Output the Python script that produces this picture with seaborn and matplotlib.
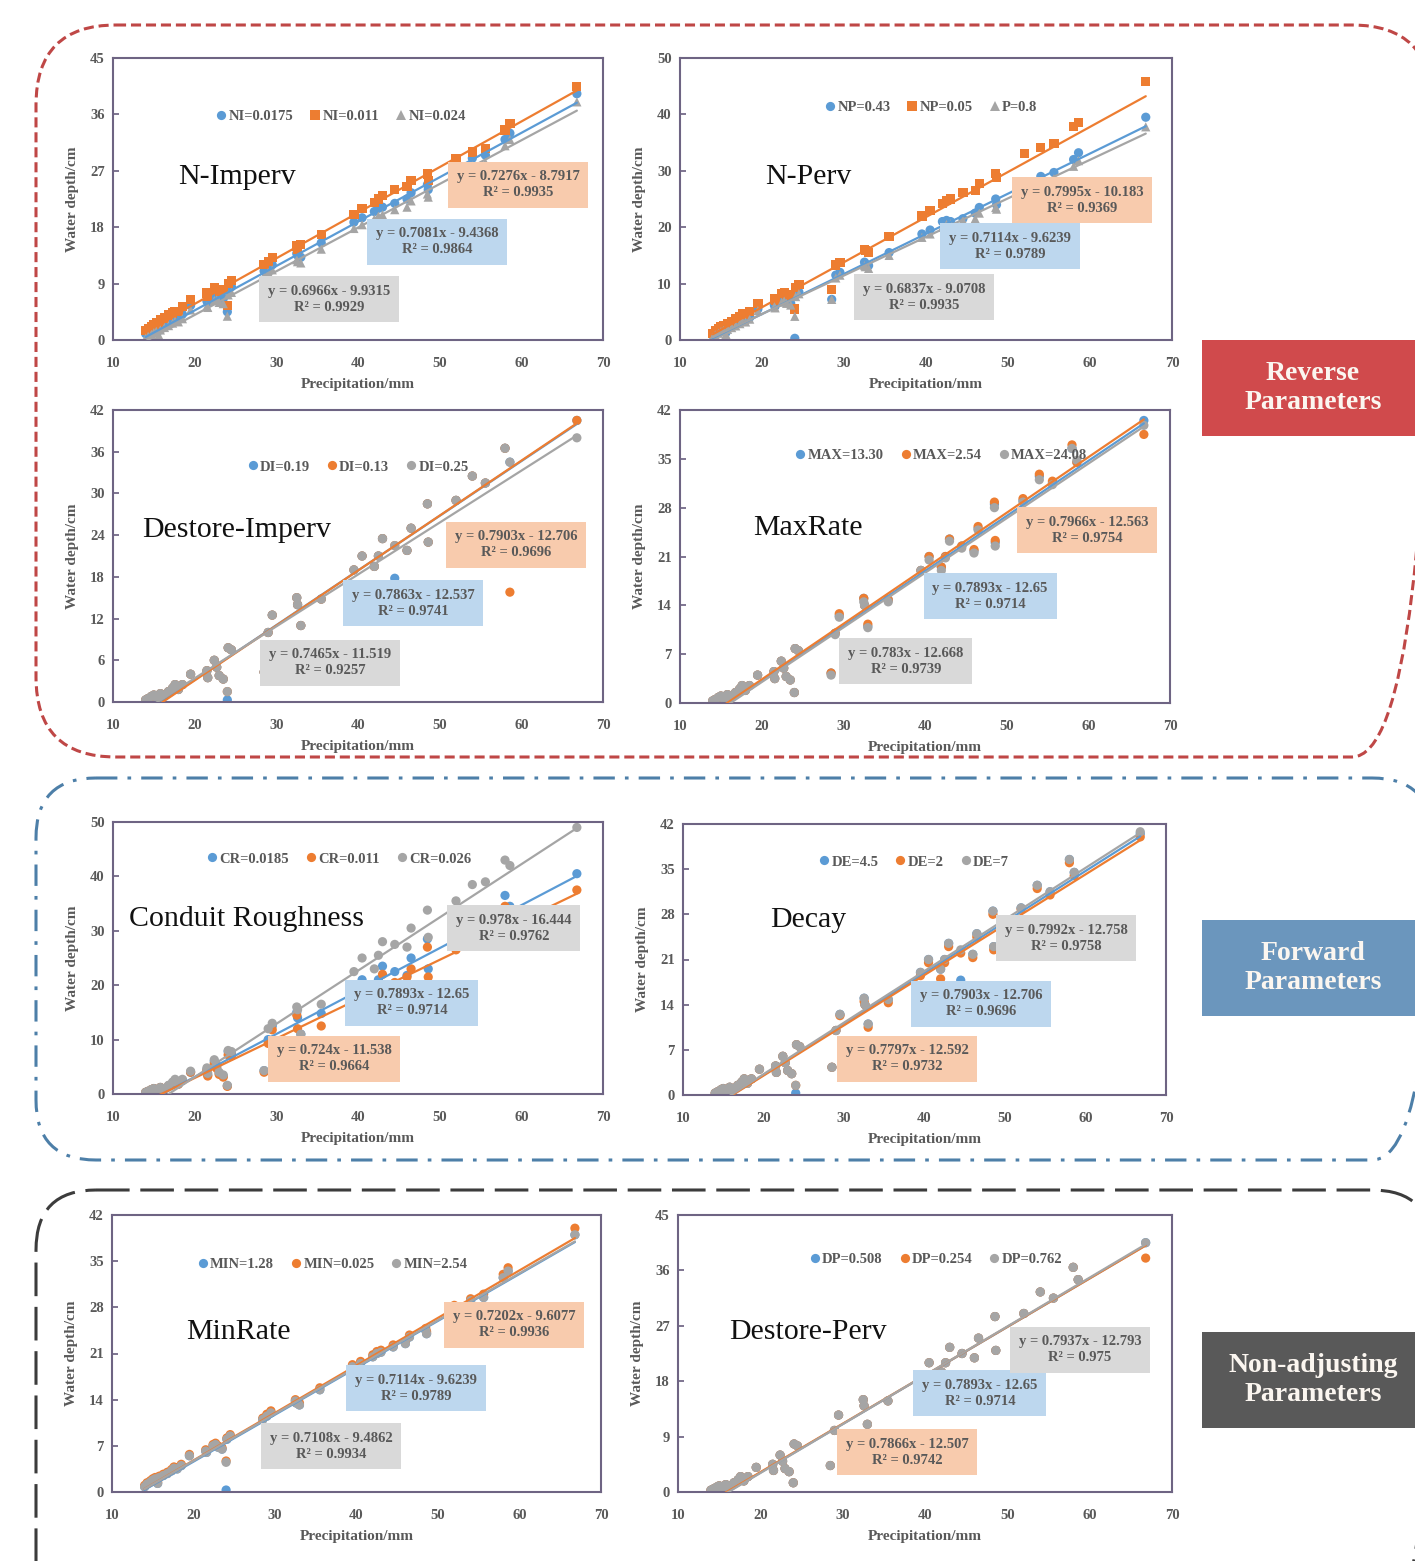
import matplotlib
matplotlib.use("Agg")
import matplotlib.pyplot as plt
from matplotlib.patches import FancyBboxPatch, Rectangle
import numpy as np
import pandas as pd
import seaborn as sns

# ---------------- data ----------------
precip = [14.0, 14.3, 14.7, 15.0, 15.3, 15.6, 15.8, 16.3, 16.8, 17.3, 17.6, 18.0, 18.5, 19.5,
          21.5, 21.6, 22.4, 22.7, 23.0, 23.5, 24.0, 24.1, 24.5, 28.5, 29.0, 29.5, 32.5, 32.6,
          33.0, 35.5, 39.5, 40.5, 42.0, 42.5, 43.0, 44.5, 46.0, 46.5, 48.5, 48.6, 52.0, 54.0,
          55.6, 58.0, 58.6, 66.8]

# N-Imperv
ni_labels = ["NI=0.0175", "NI=0.011", "NI=0.024"]
ni_blue = [1.0, 1.3, 1.6, 1.9, 2.1, 1.5, 2.3, 2.6, 3.0, 3.4, 3.7, 3.6, 4.1, 5.5, 6.2, 6.0, 7.0, 7.2, 6.8, 6.6, 4.5, 8.0, 8.5,
           11.0, 11.5, 12.0, 13.8, 13.5, 13.2, 15.5, 18.8, 19.5, 20.5, 21.0, 21.2, 21.8, 22.5, 23.5, 24.8, 24.0, 27.8, 29.0,
           29.5, 32.0, 33.0, 39.3]
ni_orange = [1.5, 1.8, 2.2, 2.5, 2.8, 2.2, 3.2, 3.5, 4.0, 4.3, 4.6, 4.5, 5.3, 6.5, 7.5, 7.0, 8.3, 8.0, 7.8, 8.0, 5.5, 9.0, 9.5,
             12.0, 12.5, 13.2, 15.0, 14.5, 15.2, 16.8, 20.0, 21.0, 22.0, 22.5, 23.0, 24.0, 24.5, 25.5, 26.5, 25.5, 29.0, 30.0,
             30.5, 33.5, 34.5, 40.5]
ni_gray = [0.3, 0.6, 0.9, 1.2, 1.4, 0.8, 1.6, 2.0, 2.3, 2.7, 3.0, 2.9, 3.4, 4.8, 5.4, 5.2, 6.3, 6.4, 6.0, 5.8, 3.8, 7.2, 7.6,
           10.2, 10.8, 11.2, 12.8, 12.5, 12.3, 14.5, 17.8, 18.4, 19.3, 19.8, 20.0, 20.8, 21.2, 22.2, 23.3, 22.8, 26.8, 27.8,
           28.3, 31.0, 32.0, 38.0]
ni_slope = [0.7081, 0.7276, 0.6966]
ni_icpt = [-9.4368, -8.7917, -9.9315]
ni_r2 = [0.9864, 0.9935, 0.9929]

# N-Perv
np_labels = ["NP=0.43", "NP=0.05", "P=0.8"]
np_blue = [0.8, 1.2, 1.5, 1.8, 2.0, 1.3, 2.2, 2.5, 2.8, 3.2, 3.6, 3.5, 4.0, 5.5, 6.2, 6.0, 7.0, 7.2, 6.8, 6.5, 0.3, 8.0, 8.5,
           7.2, 11.5, 12.0, 13.8, 13.5, 13.2, 15.5, 18.8, 19.5, 21.0, 21.2, 21.0, 21.5, 22.5, 23.5, 25.0, 24.0, 28.0, 29.0,
           29.7, 32.0, 33.2, 39.5]
np_orange = [1.2, 1.6, 2.0, 2.3, 2.6, 2.0, 2.9, 3.3, 3.8, 4.2, 4.6, 4.5, 5.0, 6.5, 7.3, 7.0, 8.2, 8.4, 8.0, 7.8, 5.5, 9.3, 9.8,
             9.0, 13.3, 13.8, 16.0, 15.8, 15.5, 18.3, 22.0, 23.0, 24.2, 24.8, 25.0, 26.2, 26.5, 27.8, 29.5, 28.8, 33.0, 34.2,
             34.8, 37.8, 38.6, 45.8]
np_gray = [0.5, 0.9, 1.2, 1.5, 1.7, 1.0, 1.9, 2.2, 2.5, 2.9, 3.3, 3.2, 3.7, 5.2, 5.9, 5.7, 6.7, 6.9, 6.5, 6.2, 4.2, 7.7, 8.2,
           7.2, 11.0, 11.5, 13.2, 13.0, 12.7, 15.0, 18.2, 18.8, 20.0, 20.5, 20.6, 21.2, 21.5, 22.5, 23.5, 23.2, 27.0, 28.0,
           28.6, 30.8, 31.8, 37.8]
np_slope = [0.7114, 0.7995, 0.6837]
np_icpt = [-9.6239, -10.183, -9.0708]
np_r2 = [0.9789, 0.9369, 0.9935]

# calibrated event depths (used by several parameters whose runs overlap it)
depth_base = [0.3, 0.5, 0.8, 1.0, 0.7, 0.2, 1.2, 1.0, 1.5, 2.0, 2.5, 1.8, 2.5, 4.0, 4.5, 3.5, 6.0, 5.0, 3.8, 3.3, 1.5, 7.8,
              7.5, 4.3, 10.0, 12.5, 15.0, 14.0, 11.0, 14.8, 19.0, 21.0, 19.5, 21.0, 23.5, 22.5, 21.8, 25.0, 28.5, 23.0, 29.0,
              32.5, 31.5, 36.5, 34.5, 40.5]

# Destore-Imperv
di_labels = ["DI=0.19", "DI=0.13", "DI=0.25"]
di_blue = [0.3, 0.5, 0.8, 1.0, 0.7, 0.2, 1.2, 1.0, 1.5, 2.0, 2.5, 1.8, 2.5, 4.0, 4.5, 3.5, 6.0, 5.0, 3.8, 3.3, 0.3, 7.8,
           7.5, 4.3, 10.0, 12.5, 15.0, 14.0, 11.0, 14.8, 19.0, 21.0, 19.5, 21.0, 23.5, 17.8, 21.8, 25.0, 28.5, 23.0, 29.0,
           32.5, 31.5, 36.5, 34.5, 40.5]
di_orange = [0.3, 0.5, 0.8, 1.0, 0.7, 0.2, 1.2, 1.0, 1.5, 2.0, 2.5, 1.8, 2.5, 4.0, 4.5, 3.5, 6.0, 5.0, 3.8, 3.3, 1.5, 7.8,
             7.5, 4.3, 10.0, 12.5, 15.0, 14.0, 11.0, 14.8, 19.0, 21.0, 19.5, 21.0, 23.5, 22.5, 21.8, 25.0, 28.5, 23.0, 29.0,
             32.5, 31.5, 36.5, 15.8, 40.5]
di_gray = [0.3, 0.5, 0.8, 1.0, 0.7, 0.2, 1.2, 1.0, 1.5, 2.0, 2.5, 1.8, 2.5, 4.0, 4.5, 3.5, 6.0, 5.0, 3.8, 3.3, 1.5, 7.8,
           7.5, 4.3, 10.0, 12.5, 15.0, 14.0, 11.0, 14.8, 19.0, 21.0, 19.5, 21.0, 23.5, 22.5, 21.8, 25.0, 28.5, 23.0, 29.0,
           32.5, 31.5, 36.5, 34.5, 38.0]
di_slope = [0.7863, 0.7903, 0.7465]
di_icpt = [-12.537, -12.706, -11.519]
di_r2 = [0.9741, 0.9696, 0.9257]

# MaxRate
mr_labels = ["MAX=13.30", "MAX=2.54", "MAX=24.08"]
mr_blue = depth_base
mr_orange = [0.3, 0.5, 0.8, 1.0, 0.7, 0.2, 1.2, 1.0, 1.5, 2.0, 2.5, 1.8, 2.5, 4.0, 4.5, 3.5, 6.0, 5.0, 3.8, 3.3, 1.5, 7.8,
             7.5, 4.3, 10.0, 12.8, 15.0, 14.0, 11.3, 14.8, 19.0, 21.0, 19.5, 21.0, 23.5, 22.5, 22.0, 25.3, 28.8, 23.3, 29.3,
             32.8, 31.8, 37.0, 34.5, 38.5]
mr_gray = [0.3, 0.5, 0.8, 1.0, 0.7, 0.2, 1.2, 1.0, 1.5, 2.0, 2.5, 1.8, 2.5, 4.0, 4.5, 3.5, 6.0, 5.0, 3.8, 3.3, 1.5, 7.8,
           7.5, 4.0, 9.8, 12.3, 14.5, 14.0, 10.8, 14.5, 19.0, 20.5, 19.0, 20.8, 23.2, 22.2, 21.5, 24.8, 28.0, 22.5, 28.8,
           32.0, 31.3, 36.5, 34.8, 39.8]
mr_slope = [0.7893, 0.7966, 0.783]
mr_icpt = [-12.65, -12.563, -12.668]
mr_r2 = [0.9714, 0.9754, 0.9739]

# Conduit Roughness
cr_labels = ["CR=0.0185", "CR=0.011", "CR=0.026"]
cr_blue = depth_base
cr_orange = [0.3, 0.5, 0.8, 1.0, 0.7, 0.2, 1.2, 1.0, 1.5, 2.0, 2.5, 1.8, 2.5, 4.0, 4.3, 3.3, 5.6, 4.7, 3.6, 3.1, 1.4, 7.2,
             7.0, 4.0, 9.3, 11.8, 14.5, 12.0, 10.2, 12.5, 17.0, 19.0, 18.0, 19.5, 22.0, 20.5, 21.5, 23.0, 27.0, 21.5, 26.5,
             29.5, 29.0, 34.5, 33.0, 37.5]
cr_gray = [0.3, 0.5, 0.8, 1.0, 0.7, 0.2, 1.2, 1.0, 1.6, 2.2, 2.7, 2.0, 2.7, 4.2, 4.8, 3.8, 6.3, 5.3, 4.0, 3.5, 1.6, 8.0,
           7.8, 4.3, 12.0, 13.0, 16.0, 15.5, 11.0, 16.5, 22.5, 25.0, 23.0, 25.5, 28.0, 27.5, 27.0, 30.5, 33.8, 28.8, 35.5,
           38.5, 39.0, 43.0, 42.0, 49.0]
cr_slope = [0.7893, 0.724, 0.978]
cr_icpt = [-12.65, -11.538, -16.444]
cr_r2 = [0.9714, 0.9664, 0.9762]

# Decay
de_labels = ["DE=4.5", "DE=2", "DE=7"]
de_blue = di_blue
de_orange = [0.3, 0.5, 0.8, 1.0, 0.7, 0.2, 1.2, 1.0, 1.5, 2.0, 2.5, 1.8, 2.5, 4.0, 4.5, 3.5, 6.0, 5.0, 3.8, 3.3, 1.5, 7.8,
             7.5, 4.3, 10.0, 12.3, 14.5, 14.0, 10.5, 14.3, 18.5, 20.5, 18.0, 20.5, 23.0, 22.0, 21.3, 24.5, 28.0, 22.5, 28.8,
             32.0, 31.0, 36.0, 34.0, 40.0]
de_gray = [0.3, 0.5, 0.8, 1.0, 0.7, 0.2, 1.2, 1.0, 1.5, 2.0, 2.5, 1.8, 2.5, 4.0, 4.5, 3.5, 6.0, 5.0, 3.8, 3.3, 1.5, 7.8,
           7.5, 4.3, 10.0, 12.5, 15.0, 14.0, 11.0, 14.8, 19.0, 21.0, 19.5, 21.0, 23.5, 22.5, 21.8, 25.0, 28.5, 23.0, 29.0,
           32.5, 31.5, 36.5, 34.5, 40.8]
de_slope = [0.7903, 0.7797, 0.7992]
de_icpt = [-12.706, -12.592, -12.758]
de_r2 = [0.9696, 0.9732, 0.9758]

# MinRate
mn_labels = ["MIN=1.28", "MIN=0.025", "MIN=2.54"]
mn_blue = [0.8, 1.2, 1.5, 1.8, 2.0, 1.3, 2.2, 2.5, 2.8, 3.2, 3.6, 3.5, 4.0, 5.5, 6.2, 6.0, 7.0, 7.2, 6.8, 6.5, 0.3, 8.0, 8.5,
           11.0, 11.5, 12.0, 13.8, 13.5, 13.2, 15.5, 19.0, 19.5, 20.5, 21.0, 21.2, 22.0, 22.5, 23.5, 24.5, 24.0, 28.0, 29.0,
           29.5, 32.5, 33.5, 39.0]
mn_orange = [1.0, 1.4, 1.7, 2.0, 2.2, 1.5, 2.4, 2.7, 3.0, 3.4, 3.8, 3.7, 4.2, 5.7, 6.4, 6.2, 7.2, 7.4, 7.0, 6.7, 4.7, 8.2,
             8.7, 11.2, 11.8, 12.3, 14.0, 13.8, 13.5, 15.8, 19.3, 19.8, 20.8, 21.3, 21.5, 22.3, 22.8, 23.8, 24.8, 24.3, 28.3,
             29.3, 30.0, 33.0, 34.0, 40.0]
mn_gray = [0.8, 1.2, 1.5, 1.8, 2.0, 1.3, 2.2, 2.5, 2.8, 3.2, 3.6, 3.5, 4.0, 5.5, 6.2, 6.0, 7.0, 7.2, 6.8, 6.5, 4.5, 8.0, 8.5,
           11.0, 11.5, 12.0, 13.8, 13.5, 13.2, 15.5, 19.0, 19.5, 20.5, 21.0, 21.2, 22.0, 22.5, 23.5, 24.5, 24.0, 28.0, 29.0,
           29.5, 32.5, 33.5, 39.0]
mn_slope = [0.7114, 0.7202, 0.7108]
mn_icpt = [-9.6239, -9.6077, -9.4862]
mn_r2 = [0.9789, 0.9936, 0.9934]

# Destore-Perv
dp_labels = ["DP=0.508", "DP=0.254", "DP=0.762"]
dp_blue = depth_base
dp_orange = [0.3, 0.5, 0.8, 1.0, 0.7, 0.2, 1.2, 1.0, 1.5, 2.0, 2.5, 1.8, 2.5, 4.0, 4.5, 3.5, 6.0, 5.0, 3.8, 3.3, 1.5, 7.8,
             7.5, 4.3, 10.0, 12.5, 15.0, 14.0, 11.0, 14.8, 19.0, 21.0, 19.5, 21.0, 23.5, 22.5, 21.8, 25.0, 28.5, 23.0, 29.0,
             32.5, 31.5, 36.5, 34.5, 38.0]
dp_gray = depth_base
dp_slope = [0.7893, 0.7866, 0.7937]
dp_icpt = [-12.65, -12.507, -12.793]
dp_r2 = [0.9714, 0.9742, 0.975]

panel_names = ["N-Imperv", "N-Perv", "Destore-Imperv", "MaxRate",
               "Conduit Roughness", "Decay", "MinRate", "Destore-Perv"]
group_names = ["Reverse\nParameters", "Forward\nParameters", "Non-adjusting\nParameters"]

panels = [
    (ni_labels, [ni_blue, ni_orange, ni_gray], ni_slope, ni_icpt, ni_r2),
    (np_labels, [np_blue, np_orange, np_gray], np_slope, np_icpt, np_r2),
    (di_labels, [di_blue, di_orange, di_gray], di_slope, di_icpt, di_r2),
    (mr_labels, [mr_blue, mr_orange, mr_gray], mr_slope, mr_icpt, mr_r2),
    (cr_labels, [cr_blue, cr_orange, cr_gray], cr_slope, cr_icpt, cr_r2),
    (de_labels, [de_blue, de_orange, de_gray], de_slope, de_icpt, de_r2),
    (mn_labels, [mn_blue, mn_orange, mn_gray], mn_slope, mn_icpt, mn_r2),
    (dp_labels, [dp_blue, dp_orange, dp_gray], dp_slope, dp_icpt, dp_r2),
]

# ---------------- layout / style ----------------
W, H = 1415, 1561
rects = [(113, 58, 603, 340), (680, 58, 1172, 340), (113, 410, 603, 702), (680, 410, 1170, 703),
         (113, 822, 603, 1094), (683, 824, 1166, 1095), (112, 1215, 601, 1492), (678, 1215, 1172, 1492)]
ylims = [(45, 9), (50, 10), (42, 6), (42, 7), (50, 10), (42, 7), (42, 7), (45, 9)]
title_pos = [(0.253, 0.578), (0.260, 0.578), (0.253, 0.589), (0.261, 0.597),
             (0.273, 0.643), (0.259, 0.646), (0.258, 0.577), (0.263, 0.577)]
legend_pos = [(0.463, 0.794), (0.508, 0.826), (0.498, 0.805), (0.531, 0.846),
              (0.459, 0.864), (0.476, 0.860), (0.449, 0.823), (0.520, 0.838)]
eq_pos = [
    [(0.661, 0.348), (0.827, 0.550), (0.441, 0.145)],
    [(0.671, 0.333), (0.817, 0.496), (0.496, 0.152)],
    [(0.612, 0.339), (0.822, 0.538), (0.443, 0.134)],
    [(0.633, 0.365), (0.831, 0.590), (0.461, 0.143)],
    [(0.610, 0.335), (0.451, 0.129), (0.818, 0.610)],
    [(0.617, 0.336), (0.464, 0.133), (0.793, 0.579)],
    [(0.622, 0.375), (0.822, 0.603), (0.448, 0.166)],
    [(0.611, 0.357), (0.464, 0.144), (0.814, 0.513)],
]
colors = ["#5b9bd5", "#ed7d31", "#a5a5a5"]
box_colors = ["#bdd7ee", "#f8cbad", "#d9d9d9"]
text_gray = "#595959"
frame_col = "#6e6483"

sns.set_theme(style="white")
plt.rcParams["font.family"] = ["Liberation Serif", "DejaVu Serif"]
plt.rcParams["font.weight"] = "bold"
plt.rcParams["axes.labelweight"] = "bold"

fig = plt.figure(figsize=(W / 100, H / 100), dpi=100)

# background layer in pixel coordinates for the group frames
bg = fig.add_axes([0, 0, 1, 1], zorder=-1)
bg.set_xlim(0, W)
bg.set_ylim(H, 0)
bg.axis("off")
groups = [(36, 25, 1432, 757, "#bf4746", (0, (3.3, 1.6)), 80),
          (36, 778, 1432, 1160, "#4d7fa8", (0, (7, 3.3, 1.2, 3.3)), 60),
          (36, 1190, 1432, 1640, "#3c3c3c", (0, (11, 3.5)), 60)]
for x0, y0, x1, y1, col, ls, rad in groups:
    bg.add_patch(FancyBboxPatch((x0, y0), x1 - x0, y1 - y0,
                                boxstyle=f"round,pad=0,rounding_size={rad}",
                                fill=False, ec=col, lw=2.2, ls=ls))
side_boxes = [(340, "#d04a4c"), (920, "#6b96bd"), (1332, "#595959")]
for (top, col), name in zip(side_boxes, group_names):
    bg.add_patch(Rectangle((1202, top), 230, 96, fc=col, ec="none"))
    bg.text(1313, top + 48, name, color="#fbf6f0", fontsize=20, fontweight="bold",
            ha="center", va="center", linespacing=1.2)

for i, (labels, ys, slopes, icpts, r2s) in enumerate(panels):
    l, t, r, b = rects[i]
    ax = fig.add_axes([l / W, 1 - b / H, (r - l) / W, (b - t) / H])
    markers = ["o", "s", "^"] if i < 2 else ["o", "o", "o"]
    df = pd.DataFrame({"precip": precip * 3,
                       "depth": ys[0] + ys[1] + ys[2],
                       "series": np.repeat(labels, len(precip))})
    sns.scatterplot(data=df, x="precip", y="depth", hue="series", style="series",
                    palette=dict(zip(labels, colors)), markers=dict(zip(labels, markers)),
                    s=44, linewidth=0, ax=ax, zorder=2)
    xs = np.array([min(precip), max(precip)])
    for k in range(3):
        ax.plot(xs, slopes[k] * xs + icpts[k], color=colors[k], lw=1.6, zorder=3)
        eq = f"y = {slopes[k]:g}x - {abs(icpts[k]):g}\nR² = {r2s[k]:g}"
        ax.text(*eq_pos[i][k], eq, transform=ax.transAxes, ha="center", va="center",
                fontsize=10.5, fontweight="bold", color=text_gray, linespacing=1.3, zorder=5,
                bbox=dict(boxstyle="square,pad=0.6", fc=box_colors[k], ec="none"))

    handles, _ = ax.get_legend_handles_labels()
    ax.legend(handles, labels, loc="center", bbox_to_anchor=legend_pos[i], ncol=3,
              frameon=False, handletextpad=0.0, columnspacing=1.0, handlelength=1.0,
              prop=dict(family="Liberation Serif", weight="bold", size=10.5),
              labelcolor=text_gray, borderaxespad=0)

    ax.text(*title_pos[i], panel_names[i], transform=ax.transAxes, ha="center", va="center",
            fontsize=21.5, fontweight="normal", color="#111111")

    ymax, ystep = ylims[i]
    ax.set_xlim(10, 70)
    ax.set_ylim(0, ymax)
    ax.set_xticks(range(10, 71, 10))
    ax.set_yticks(np.arange(0, ymax + 0.1, ystep))
    ax.set_xlabel("Precipitation/mm", fontsize=11, fontweight="bold", color=text_gray, labelpad=6)
    ax.set_ylabel("Water depth/cm", fontsize=11, fontweight="bold", color=text_gray, labelpad=8)
    ax.tick_params(axis="both", labelsize=10.5, labelcolor=text_gray, pad=6)
    ax.tick_params(axis="y", left=True, direction="in", length=4, color=frame_col)
    for lbl in ax.get_xticklabels() + ax.get_yticklabels():
        lbl.set_fontweight("bold")
    for sp in ax.spines.values():
        sp.set_color(frame_col)
        sp.set_linewidth(1.5)
    ax.set_facecolor("white")

fig.savefig("out.png", dpi=100, facecolor="white")
